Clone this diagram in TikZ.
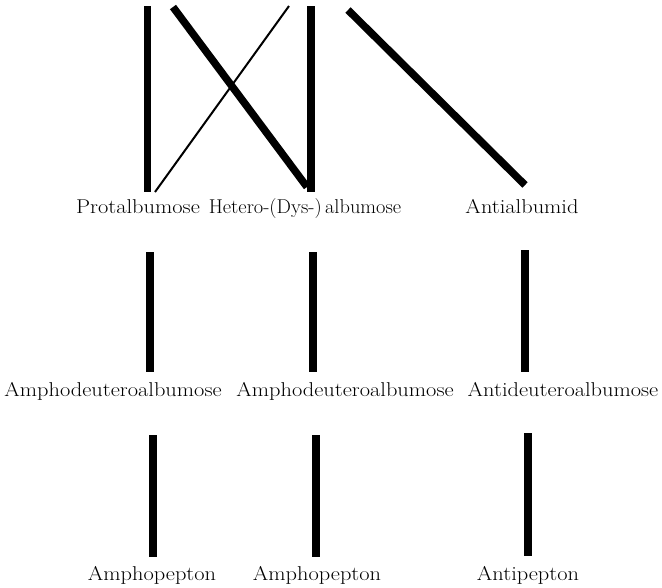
\documentclass[tikz,border=0pt]{standalone}
\newcommand\widetxt[1]{\scalebox{1.12}[1]{#1}}
\begin{document}
\begin{tikzpicture}[x=1pt,y=-1pt,
  lbl/.style={anchor=base,inner sep=0pt,font=\fontsize{20}{24}\selectfont},
  heavy/.style={line width=7.5pt},
  light/.style={line width=2pt}]
\useasboundingbox (0,0) rectangle (662,587);
% labels
\node[lbl] (prot) at (138,213) {\widetxt{Protalbumose}};
\node[lbl] (het)  at (305,213) {\scalebox{1.02}[1]{Hetero-(Dys-)\,albumose}};
\node[lbl] (anb)  at (522,213) {\widetxt{Antialbumid}};
\node[lbl] (ad1)  at (113,396) {\widetxt{Amphodeuteroalbumose}};
\node[lbl] (ad2)  at (345,396) {\widetxt{Amphodeuteroalbumose}};
\node[lbl] (adn)  at (563,396) {\widetxt{Antideuteroalbumose}};
\node[lbl] (ap1)  at (152,580) {\widetxt{Amphopepton}};
\node[lbl] (ap2)  at (317,580) {\widetxt{Amphopepton}};
\node[lbl] (anp)  at (528,580) {\widetxt{Antipepton}};
% top connector ends
\coordinate (a1) at (147.5,6);   \coordinate (a2) at (147.5,192);
\coordinate (b1) at (173,7);     \coordinate (b2) at (307,187);
\coordinate (c1) at (289,6);     \coordinate (c2) at (155,192);
\coordinate (e1) at (311,6);     \coordinate (e2) at (311,192);
\coordinate (f1) at (348,10);    \coordinate (f2) at (525,185);
\draw[heavy] (a1) -- (a2);
\draw[heavy] (b1) -- (b2);
\draw[light] (c1) -- (c2);
\draw[heavy] (e1) -- (e2);
\draw[heavy] (f1) -- (f2);
% middle
\coordinate (g1) at (150,252); \coordinate (g2) at (150,372);
\coordinate (h1) at (313,252); \coordinate (h2) at (313,372);
\coordinate (i1) at (525,250); \coordinate (i2) at (525,372);
\draw[heavy] (g1) -- (g2);
\draw[heavy] (h1) -- (h2);
\draw[heavy] (i1) -- (i2);
% bottom
\coordinate (j1) at (153,435); \coordinate (j2) at (153,557);
\coordinate (k1) at (316,435); \coordinate (k2) at (316,557);
\coordinate (l1) at (528,433); \coordinate (l2) at (528,556);
\draw[heavy] (j1) -- (j2);
\draw[heavy] (k1) -- (k2);
\draw[heavy] (l1) -- (l2);
\end{tikzpicture}
\end{document}
